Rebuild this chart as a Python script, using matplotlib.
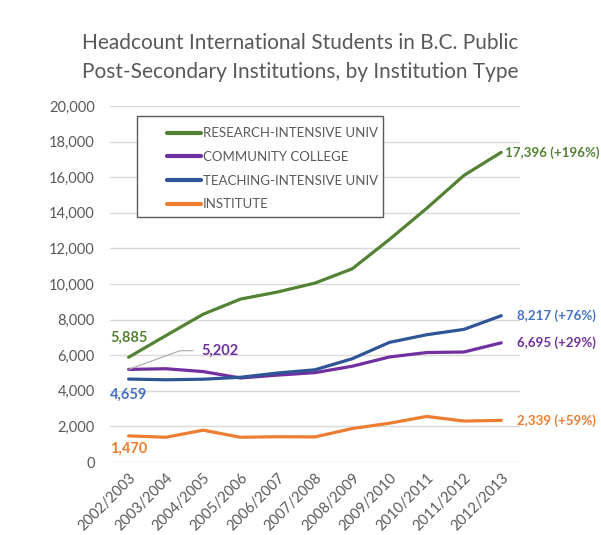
import matplotlib.pyplot as plt
from matplotlib.patches import Rectangle
import numpy as np

years = ['2002/2003', '2003/2004', '2004/2005', '2005/2006', '2006/2007', '2007/2008',
         '2008/2009', '2009/2010', '2010/2011', '2011/2012', '2012/2013']
research = [5885, 7100, 8300, 9150, 9550, 10050, 10850, 12500, 14250, 16100, 17396]
community = [5202, 5240, 5080, 4720, 4880, 5020, 5380, 5900, 6150, 6180, 6695]
teaching = [4659, 4620, 4650, 4760, 5000, 5180, 5800, 6720, 7150, 7450, 8217]
institute = [1470, 1390, 1790, 1390, 1420, 1410, 1880, 2180, 2560, 2300, 2339]

names = ['RESEARCH-INTENSIVE UNIV', 'COMMUNITY COLLEGE', 'TEACHING-INTENSIVE UNIV', 'INSTITUTE']
end_labels = ['17,396 (+196%)', '6,695 (+29%)', '8,217 (+76%)', '2,339 (+59%)']
line_colors = ['#548235', '#7030A0', '#2F5597', '#ED7D31']
text_colors = ['#548235', '#7030A0', '#4472C4', '#ED7D31']

plt.rcParams['font.family'] = ['Lato', 'DejaVu Sans']

fig = plt.figure(figsize=(6.01, 5.35), dpi=100)
ax = fig.add_axes([0.183, 0.1364, 0.682, 0.6656])

x = np.arange(len(years))
series = [research, community, teaching, institute]
for vals, c, n in zip(series, line_colors, names):
    ax.plot(x, vals, color=c, lw=2.3, label=n, solid_capstyle='round')

ax.set_xlim(-0.5, 10.5)
ax.set_ylim(0, 20000)
ax.set_yticks(range(0, 20001, 2000))
ax.set_yticklabels([f'{v:,}' for v in range(0, 20001, 2000)])
ax.set_xticks(x)
ax.set_xticklabels(years, rotation=45, ha='right', rotation_mode='anchor')
ax.tick_params(axis='both', length=0, colors='#595959', labelsize=10.5)
ax.tick_params(axis='y', pad=11)
ax.tick_params(axis='x', pad=6)
ax.grid(axis='y', color='#d9d9d9', lw=1)
ax.set_axisbelow(True)
for s in ax.spines.values():
    s.set_visible(False)

# end labels
offsets = [3, 11, 11, 11]
for vals, lab, tc, off in zip(series, end_labels, text_colors, offsets):
    ax.annotate(lab, (10, vals[-1]), xytext=(off, 0), textcoords='offset points',
                color=tc, fontsize=9.6, fontweight='bold', va='center', ha='left')

# start labels
ax.annotate('5,885', (0, research[0]), xytext=(0, 14), textcoords='offset points',
            color=text_colors[0], fontsize=10.5, fontweight='bold', ha='center', va='center')
ax.annotate('4,659', (0, teaching[0]), xytext=(0, -11), textcoords='offset points',
            color=text_colors[2], fontsize=10.5, fontweight='bold', ha='center', va='center')
ax.annotate('1,470', (0, institute[0]), xytext=(0, -9), textcoords='offset points',
            color=text_colors[3], fontsize=10.5, fontweight='bold', ha='center', va='center')
ax.annotate('5,202', (0, community[0]), xytext=(1.95, 6250), textcoords='data',
            color=text_colors[1], fontsize=10.5, fontweight='bold', ha='left', va='center',
            arrowprops=dict(arrowstyle='-', color='#a6a6a6', lw=0.8,
                            connectionstyle='angle,angleA=0,angleB=20,rad=0',
                            shrinkA=4, shrinkB=0))

# legend box drawn separately so the handles can sit inset from the frame
ax.add_patch(Rectangle((0.066, 0.688), 0.60, 0.284, transform=ax.transAxes,
                       fill=True, facecolor='white', edgecolor='#595959', lw=1.0, zorder=3))
leg = ax.legend(loc='upper left', bbox_to_anchor=(0.122, 0.958), frameon=False,
                fontsize=9.5, handlelength=2.6, labelspacing=0.88, borderpad=0,
                handletextpad=0.15)
leg.set_zorder(4)
for t in leg.get_texts():
    t.set_color('#595959')
for h in leg.get_lines():
    h.set_linewidth(3)

fig.text(0.5, 0.893, 'Headcount International Students in B.C. Public\nPost-Secondary Institutions, by Institution Type',
         ha='center', va='center', fontsize=15, color='#595959', linespacing=1.55)

fig.savefig('out.png', dpi=100)
